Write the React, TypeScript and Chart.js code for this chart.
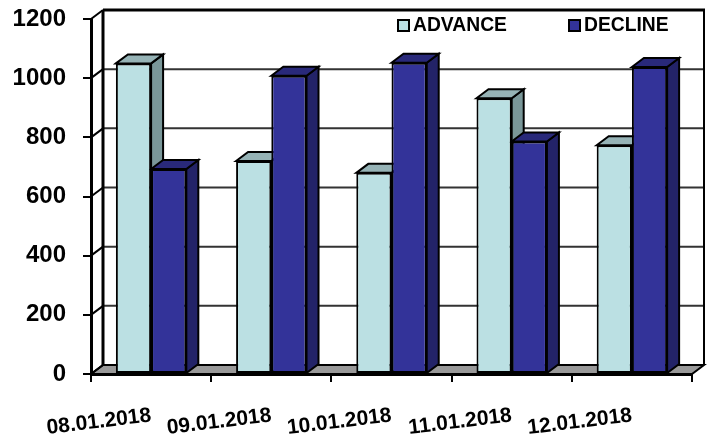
import React, { useEffect, useRef } from "react";
import { Chart, registerables } from "chart.js";

Chart.register(...registerables);

const categories = ["08.01.2018", "09.01.2018", "10.01.2018", "11.01.2018", "12.01.2018"];
const advance = [1050, 720, 680, 932, 773];
const decline = [693, 1008, 1052, 786, 1038];

const depthX = 12;
const depthY = 9;
const shades = [
  { top: "#96B3B6", side: "#7A9799" },
  { top: "#29297A", side: "#232368" },
];

function polygon(ctx: CanvasRenderingContext2D, pts: number[][], fill: string | null, stroke = "#000", lw = 2) {
  ctx.beginPath();
  pts.forEach((p, i) => (i ? ctx.lineTo(p[0], p[1]) : ctx.moveTo(p[0], p[1])));
  ctx.closePath();
  if (fill) {
    ctx.fillStyle = fill;
    ctx.fill();
  }
  ctx.strokeStyle = stroke;
  ctx.lineWidth = lw;
  ctx.stroke();
}

function line(ctx: CanvasRenderingContext2D, x1: number, y1: number, x2: number, y2: number, color = "#000", lw = 2) {
  ctx.beginPath();
  ctx.moveTo(x1, y1);
  ctx.lineTo(x2, y2);
  ctx.strokeStyle = color;
  ctx.lineWidth = lw;
  ctx.stroke();
}

const scene3d = {
  id: "scene3d",
  beforeDatasetsDraw(chart: any) {
    const { ctx, chartArea: a, scales } = chart;
    const y = scales.y;
    ctx.save();
    polygon(ctx, [
      [a.left, a.bottom],
      [a.right, a.bottom],
      [a.right + depthX, a.bottom - depthY],
      [a.left + depthX, a.bottom - depthY],
    ], "#999999", "#000", 2);
    y.ticks.forEach((t: any) => {
      const py = y.getPixelForValue(t.value);
      if (t.value > 0 && t.value < y.max) line(ctx, a.left + depthX, py - depthY, a.right + depthX, py - depthY, "#333", 2);
      line(ctx, a.left, py, a.left + depthX, py - depthY, "#000", 2);
    });
    line(ctx, a.left + depthX, a.top - depthY, a.right + depthX + 1, a.top - depthY, "#000", 3);
    line(ctx, a.left + depthX, a.top - depthY, a.left + depthX, a.bottom - depthY, "#000", 3);
    line(ctx, a.right + depthX, a.top - depthY, a.right + depthX, a.bottom - depthY, "#000", 2);
    chart.data.labels.forEach((_: string, i: number) => {
      [0, 1].forEach((d) => {
        const bar = chart.getDatasetMeta(d).data[i];
        const half = bar.width / 2;
        const l = bar.x - half;
        const r = bar.x + half;
        polygon(ctx, [[r, bar.y], [r + depthX, bar.y - depthY], [r + depthX, bar.base - depthY], [r, bar.base]], shades[d].side);
        polygon(ctx, [[l, bar.y], [l + depthX, bar.y - depthY], [r + depthX, bar.y - depthY], [r, bar.y]], shades[d].top);
      });
    });
    ctx.restore();
  },
  afterDraw(chart: any) {
    const { ctx, data } = chart;
    const starts = [398, 569];
    ctx.save();
    ctx.textBaseline = "middle";
    ctx.textAlign = "left";
    ctx.font = "bold 19.3px 'Liberation Sans'";
    data.datasets.forEach((ds: any, i: number) => {
      ctx.fillStyle = ds.backgroundColor;
      ctx.strokeStyle = "#000";
      ctx.lineWidth = 2;
      ctx.fillRect(starts[i], 20, 11, 11);
      ctx.strokeRect(starts[i], 20, 11, 11);
      ctx.fillStyle = "#000";
      ctx.fillText(ds.label, starts[i] + 15, 25.5);
    });
    ctx.restore();
  },
};

function noOverhang(s: any) {
  s.paddingTop = 0;
  s.paddingBottom = 0;
  s.paddingLeft = 0;
  s.paddingRight = 0;
}

export default function App() {
  const ref = useRef<HTMLCanvasElement>(null);
  useEffect(() => {
    const chart = new Chart(ref.current!, {
      type: "bar",
      data: {
        labels: categories,
        datasets: [
          { label: "ADVANCE", data: advance, backgroundColor: "#BBE0E3", borderColor: "#000", borderWidth: 2, borderSkipped: false },
          { label: "DECLINE", data: decline, backgroundColor: "#333399", borderColor: "#000", borderWidth: 2, borderSkipped: false },
        ],
      },
      plugins: [scene3d],
      options: {
        animation: false,
        responsive: false,
        maintainAspectRatio: false,
        layout: { padding: { top: 19, right: 21, left: 0, bottom: 0 } },
        plugins: { legend: { display: false }, tooltip: { enabled: false } },
        datasets: { bar: { categoryPercentage: 0.586, barPercentage: 1 } },
        scales: {
          x: {
            afterFit: (s: any) => { s.height = 65; noOverhang(s); },
            border: { display: true, color: "#000", width: 3 },
            grid: { drawOnChartArea: false, tickLength: 8, color: "#000", lineWidth: 2, offset: true },
            ticks: {
              color: "#000",
              minRotation: 7,
              maxRotation: 7,
              padding: 21,
              font: { family: "'Liberation Sans'", weight: "bold", size: 21 },
            },
          },
          y: {
            min: 0,
            max: 1200,
            afterFit: (s: any) => { s.width = 91; noOverhang(s); },
            border: { display: true, color: "#000", width: 3 },
            grid: { drawOnChartArea: false, tickLength: 8, color: "#000", lineWidth: 2 },
            ticks: {
              stepSize: 200,
              color: "#000",
              padding: 17,
              callback: (v: any) => String(v),
              font: { family: "'Liberation Sans'", weight: "bold", size: 24 },
            },
          },
        },
      } as any,
    });
    return () => chart.destroy();
  }, []);
  return (
    <div style={{ position: "fixed", left: 0, top: 0, width: 713, height: 439, background: "#fff" }}>
      <canvas ref={ref} width={713} height={439} style={{ display: "block" }} />
    </div>
  );
}
